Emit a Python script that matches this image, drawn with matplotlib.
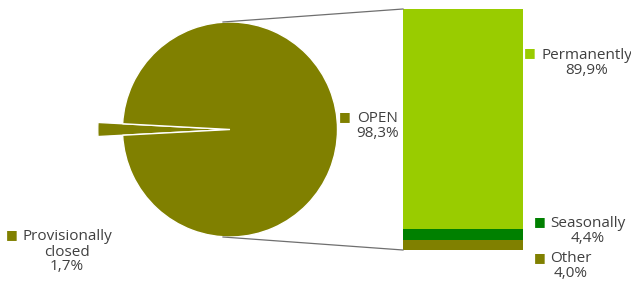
import matplotlib.pyplot as plt

# pie: status of establishments
pie_labels = ["Provisionally\nclosed", "OPEN"]
pie_values = [1.7, 98.3]

# bar: breakdown of OPEN
bar_labels = ["Other", "Seasonally", "Permanently"]
bar_values = [4.0, 4.4, 89.9]
bar_colors = ["#808000", "#008000", "#99cc00"]

olive = "#808000"
txt = "#404040"

plt.rcParams['font.family'] = ['Open Sans', 'DejaVu Sans']

fig = plt.figure(figsize=(6.31, 2.82), dpi=100)
ax = fig.add_axes([0, 0, 1, 1])

# pie in pixel coordinates
cx, cy, r = 230, 129.5, 107.5
start = 180 - pie_values[0] / 100 * 360 / 2
wedges, _ = ax.pie(pie_values, colors=[olive, olive], startangle=start,
                   center=(cx, cy), radius=r, frame=True,
                   wedgeprops=dict(edgecolor='white', linewidth=1))
wedges[0].set_radius(r * 1.23)
ax.set_xlim(0, 631)
ax.set_ylim(282, 0)
ax.set_aspect('equal')
ax.axis('off')

# stacked bar for OPEN
bar_top, bar_bottom = 9, 250
scale = (bar_bottom - bar_top) / sum(bar_values)
bx, bw = 463, 120
bottom = bar_bottom
for v, c in zip(bar_values, bar_colors):
    ax.bar(bx, -v * scale, bottom=bottom, width=bw, color=c, linewidth=0)
    bottom -= v * scale

# connector lines
ax.plot([223, bx - bw / 2], [cy - r, bar_top], color='#6f6f6f', lw=0.9)
ax.plot([223, bx - bw / 2], [cy + r, bar_bottom], color='#6f6f6f', lw=0.9)

fs = 11
ms = 9


def pct(v):
    return f"{v:.1f}%".replace('.', ',')


def label(mx, my, tx, ty, text, color):
    ax.text(mx, my, "\u25a0", color=color, fontsize=ms, va='center', ha='left')
    ax.text(tx, ty, text, color=txt, fontsize=fs, ha='center', va='center',
            linespacing=1.0)


label(339, 117, 378, 126, "OPEN\n" + pct(pie_values[1]), olive)
label(6, 235, 67, 252, pie_labels[0] + "\n" + pct(pie_values[0]), olive)
label(524, 53, 587, 63, bar_labels[2] + "\n" + pct(bar_values[2]), bar_colors[2])
label(534, 222, 588, 231, bar_labels[1] + "\n" + pct(bar_values[1]), bar_colors[1])
label(534, 258, 571, 266, bar_labels[0] + "\n" + pct(bar_values[0]), bar_colors[0])

fig.savefig("out.png", dpi=100)
